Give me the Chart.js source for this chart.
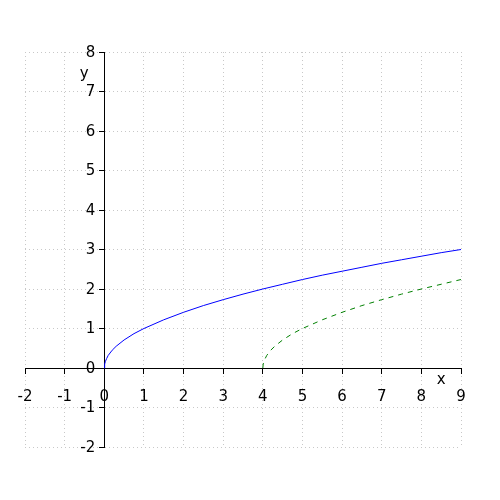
<!DOCTYPE html>
<html>
<head>
<meta charset="utf-8">
<script src="https://cdn.jsdelivr.net/npm/chart.js@4/dist/chart.umd.min.js"></script>
<style>
html,body{margin:0;padding:0;background:#fff;}
#wrap{width:500px;height:500px;}
</style>
</head>
<body>
<div id="wrap"><canvas id="c" width="500" height="500"></canvas></div>
<script>
// Blue curve
const blueX = [0, 0.01, 0.03, 0.06, 0.1, 0.2, 0.3, 0.5, 0.75, 1, 1.5, 2, 2.5, 3, 3.5, 4, 4.5, 5, 5.5, 6, 6.5, 7, 7.5, 8, 8.5, 9];
const blueY = [0, 0.1, 0.17, 0.24, 0.32, 0.45, 0.55, 0.71, 0.87, 1, 1.22, 1.41, 1.58, 1.73, 1.87, 2, 2.12, 2.24, 2.35, 2.45, 2.55, 2.65, 2.74, 2.83, 2.92, 3];
// Green dashed curve
const greenX = [4, 4.01, 4.03, 4.06, 4.1, 4.2, 4.3, 4.5, 4.75, 5, 5.5, 6, 6.5, 7, 7.5, 8, 8.5, 9];
const greenY = [0, 0.1, 0.17, 0.24, 0.32, 0.45, 0.55, 0.71, 0.87, 1, 1.22, 1.41, 1.58, 1.73, 1.87, 2, 2.12, 2.24];
// Axis ranges and labels
const xRange = [-2, 9];
const yRange = [-2, 8];
const xTitle = 'x';
const yTitle = 'y';

const toPts = (xs, ys) => xs.map((x, i) => ({x: x, y: ys[i]}));

const FONT = {family: '"DejaVu Sans", sans-serif', size: 15};
const FONT_CSS = '15px "DejaVu Sans", sans-serif';

const axisText = {
  id: 'axisText',
  afterDraw(chart) {
    const {ctx, scales: {x, y}} = chart;
    const axisX = x.getPixelForValue(0);
    ctx.save();
    ctx.fillStyle = '#000';
    ctx.font = FONT_CSS;
    // y tick labels, right-aligned left of the y axis
    ctx.textAlign = 'right';
    ctx.textBaseline = 'middle';
    y.ticks.forEach(t => {
      ctx.fillText(String(t.value), axisX - 9, y.getPixelForValue(t.value) + 1);
    });
    // axis titles
    ctx.textAlign = 'center';
    ctx.fillText(xTitle, x.getPixelForValue(8.5), y.getPixelForValue(0) + 12);
    ctx.fillText(yTitle, x.getPixelForValue(0) - 20, y.getPixelForValue(7.5) + 2);
    ctx.restore();
  }
};

const gridCommon = {
  color: '#c8c8c8',
  lineWidth: 1,
  tickColor: '#000',
  tickWidth: 1,
  tickLength: 5,
  tickBorderDash: [],
  drawTicks: true
};

new Chart(document.getElementById('c'), {
  type: 'scatter',
  data: {
    datasets: [
      {
        data: toPts(blueX, blueY),
        showLine: true,
        borderColor: '#0000ff',
        borderWidth: 1,
        pointRadius: 0,
        tension: 0,
        fill: false
      },
      {
        data: toPts(greenX, greenY),
        showLine: true,
        borderColor: '#008000',
        borderWidth: 1,
        borderDash: [5, 5],
        pointRadius: 0,
        tension: 0,
        fill: false
      }
    ]
  },
  options: {
    responsive: false,
    animation: false,
    devicePixelRatio: 1,
    layout: {padding: {left: 25, right: 39, top: 52, bottom: 53}},
    plugins: {legend: {display: false}, tooltip: {enabled: false}},
    scales: {
      x: {
        type: 'linear',
        min: xRange[0], max: xRange[1],
        position: {y: 0},
        grid: gridCommon,
        border: {display: true, color: '#000', width: 1, dash: [1, 3]},
        ticks: {stepSize: 1, color: '#000', font: FONT, padding: 15, maxRotation: 0, autoSkip: false}
      },
      y: {
        type: 'linear',
        min: yRange[0], max: yRange[1],
        position: {x: 0},
        grid: gridCommon,
        border: {display: true, color: '#000', width: 1, dash: [1, 3]},
        ticks: {stepSize: 1, display: false, font: FONT, autoSkip: false}
      }
    }
  },
  plugins: [axisText]
});
</script>
</body>
</html>
